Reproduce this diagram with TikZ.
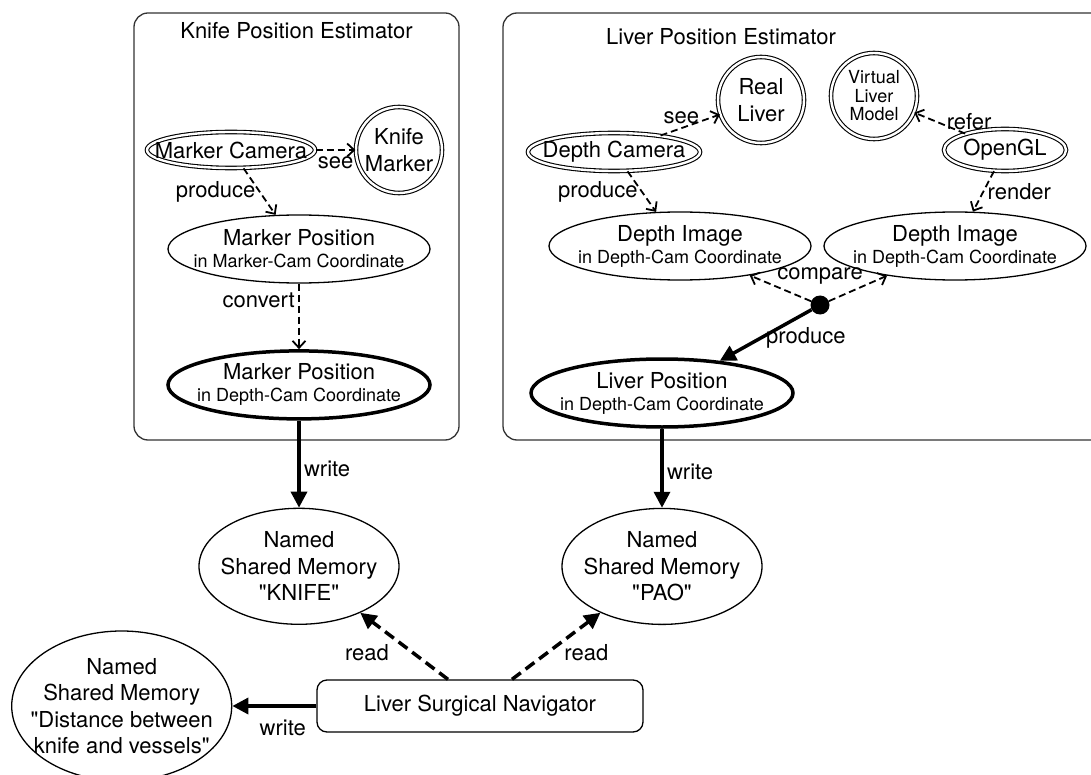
\documentclass[tikz,border=0pt]{standalone}
\usepackage{fontspec}
\setmainfont{TeX Gyre Heros}[Ligatures=TeXOff]
\usepackage{tikz}
\usetikzlibrary{shapes.geometric, arrows.meta}
\usetikzlibrary{shapes.misc, positioning}
\newcommand{\smtxt}{\fontsize{18}{20}\selectfont}
\tikzstyle{estim} = [rectangle, rounded corners=14pt, draw=black!80, line width=1.3pt]
\tikzstyle{cam} = [ellipse, draw, double, double distance=2.4pt, line width=1.1pt, minimum width=168pt, minimum height=36pt, inner xsep=-18pt, inner ysep=-6pt]
\tikzstyle{thing} = [circle, draw, double, double distance=2.4pt, line width=1.1pt, minimum size=86pt, inner sep=0pt]
\tikzstyle{posn} = [ellipse, draw, line width=1.3pt, minimum width=262pt, minimum height=68pt, inner xsep=-16pt, inner ysep=-10pt]
\tikzstyle{result} = [posn, line width=3.5pt]
\tikzstyle{mem} = [ellipse, draw, line width=1.3pt, minimum width=200pt, minimum height=116pt, inner xsep=-10pt, inner ysep=-10pt]
\tikzstyle{app} = [rectangle, draw, rounded corners=10pt, line width=1.3pt, minimum width=326pt, minimum height=52pt]
\tikzstyle{joint} = [circle, fill, inner sep=0pt, minimum size=19pt]
\tikzstyle{daro} = [-{Straight Barb[length=7pt,width=13pt]}, line width=1.8pt, dash pattern=on 7pt off 4pt]
\tikzstyle{baro} = [-{Triangle[length=16pt,width=16pt]}, line width=3.5pt]
\tikzstyle{bdaro} = [baro, dash pattern=on 11pt off 6pt]

\begin{document}
\begin{tikzpicture}[x=1pt, y=-1pt, font=\fontsize{22}{26.5}\selectfont, align=center]

  \useasboundingbox (0,0) rectangle (1091,775);

  % the two estimators
  \node (kbox) [estim, minimum width=325pt, minimum height=427pt] at (296.5,226.5) {};
  \node (ktitle) [below=7pt of kbox.north] {Knife Position Estimator};
  \node (lbox) [estim, minimum width=610pt, minimum height=427pt] at (808,226.5) {};
  \node (ltitle) at (721,37) {Liver Position Estimator};

  % knife side
  \node (mcam) [cam] at (231,150) {Marker Camera};
  \node (kmark) [thing] at (399,150) {Knife\\Marker};
  \node (mpcam) [posn] at (299,249) {Marker Position\\[-4.5pt]{\smtxt in Marker-Cam Coordinate}};
  \node (mpdep) [result, below=65.5pt of mpcam] {Marker Position\\[-4.5pt]{\smtxt in Depth-Cam Coordinate}};

  \draw [daro] (mcam) -- node[below=2pt] {see} (kmark);
  \draw [daro] (mcam) -- node[left] {produce} (mpcam);
  \draw [daro] (mpcam) -- node[left, pos=0.25] {convert} (mpdep);

  % liver side
  \node (dcam) [cam, minimum width=172pt, minimum height=38pt] at (614,152) {Depth Camera};
  \node (rliver) [thing] at (761,100) {Real\\Liver};
  \node (vmodel) [thing, font=\fontsize{18}{18.5}\selectfont] at (874,96) {Virtual\\Liver\\Model};
  \node (ogl) [cam, minimum width=122pt, minimum height=42pt] at (1005,150) {OpenGL};
  \node (dimg1) [posn] at (680,246) {Depth Image\\[-4.5pt]{\smtxt in Depth-Cam Coordinate}};
  \node (dimg2) [posn] at (955,246) {Depth Image\\[-4.5pt]{\smtxt in Depth-Cam Coordinate}};
  \node (cmp) [joint] at (820,305) {};
  \node (cmplbl) [above=7pt of cmp] {compare};
  \node (lpos) [result] at (662,393) {Liver Position\\[-4.5pt]{\smtxt in Depth-Cam Coordinate}};

  \draw [daro] (dcam) -- node[above, pos=0.35] {see} (rliver);
  \draw [daro] (ogl) -- node[above, pos=0, xshift=4pt] {refer} (vmodel);
  \draw [daro] (dcam) -- node[left] {produce} (dimg1);
  \draw [daro] (ogl) -- node[right] {render} (dimg2);
  \draw [daro] (cmp) -- (dimg1);
  \draw [daro] (cmp) -- (dimg2);
  \draw [baro] (cmp) -- node[right, pos=0.55] {produce} (lpos);

  % shared memories and navigator
  \node (kmem) [mem, below=87pt of mpdep] {Named\\Shared Memory\\"KNIFE"};
  \node (pmem) [mem, below=79pt of lpos] {Named\\Shared Memory\\"PAO"};
  \node (nav) [app] at (480,706) {Liver Surgical Navigator};
  \node (dmem) [mem, minimum width=220pt, minimum height=150pt, inner xsep=-16pt, left=84pt of nav] {Named\\Shared Memory\\"Distance between\\knife and vessels"};

  \draw [baro] (mpdep) -- node[right, pos=0.55] {write} (kmem);
  \draw [baro] (lpos) -- node[right, pos=0.55] {write} (pmem);
  \draw [bdaro] ([xshift=-32pt]nav.north) -- node[left=19pt, pos=0.4] {read} (kmem);
  \draw [bdaro] ([xshift=32pt]nav.north) -- node[right=12pt, pos=0.4] {read} (pmem);
  \draw [baro] (nav) -- node[below=9pt, pos=0.4] {write} (dmem);

\end{tikzpicture}
\end{document}
